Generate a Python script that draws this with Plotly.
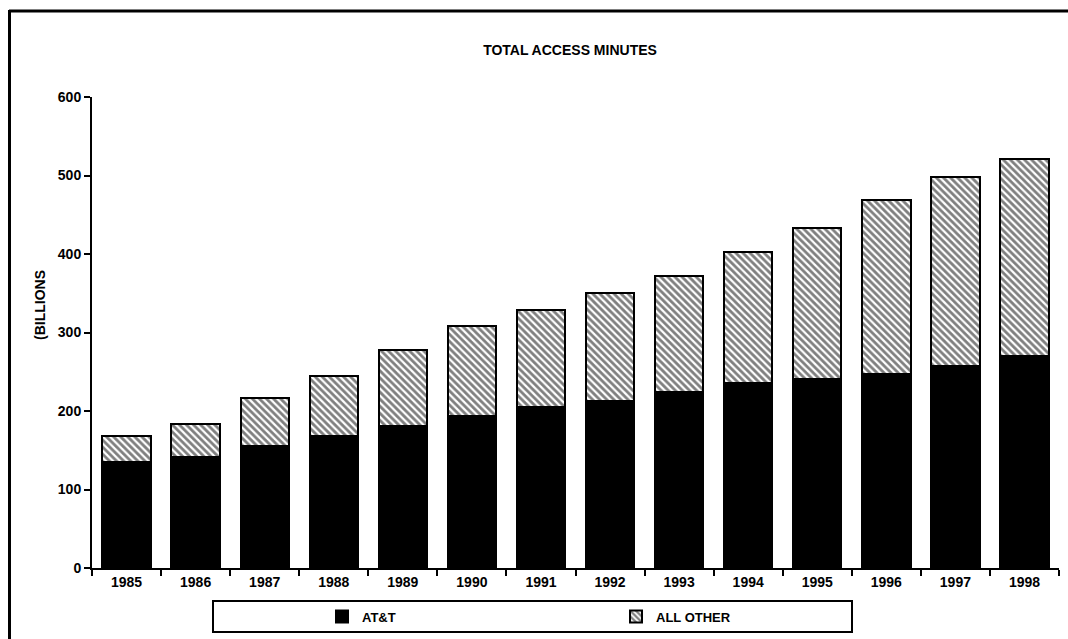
import plotly.graph_objects as go

years = ["1985", "1986", "1987", "1988", "1989", "1990", "1991",
         "1992", "1993", "1994", "1995", "1996", "1997", "1998"]
att = [135, 141, 155, 168, 181, 194, 205, 213, 224, 236, 241, 247, 257, 270]
all_other = [33, 42, 61, 77, 97, 114, 124, 137, 148, 166, 192, 222, 241, 251]
y_ticks = [0, 100, 200, 300, 400, 500, 600]

W, H = 1068, 639
L, R, T, B = 92, 1059, 97, 568


def px(x):
    return (x - L) / (R - L)


def py(y):
    return (B - y) / (B - T)


FONT = "Liberation Sans, Arial, sans-serif"

fig = go.Figure()
fig.add_trace(go.Bar(
    x=years, y=att, name="AT&T",
    marker=dict(color="black", line=dict(color="black", width=2)),
))
fig.add_trace(go.Bar(
    x=years, y=all_other, name="ALL OTHER",
    marker=dict(color="white", line=dict(color="black", width=2),
                pattern=dict(shape="\\", fgcolor="black", bgcolor="white",
                             size=5, solidity=0.55)),
))

fig.update_layout(
    width=W, height=H,
    barmode="stack", bargap=0.3,
    plot_bgcolor="white", paper_bgcolor="white",
    margin=dict(l=L, r=W - R, t=T, b=H - B, autoexpand=False),
    font=dict(family=FONT, size=13, color="black"),
    title=dict(text="TOTAL ACCESS MINUTES", x=px(570), xref="paper",
               xanchor="center", y=1 - 50 / H, yanchor="middle",
               font=dict(size=14, family=FONT, color="black", weight="bold")),
    xaxis=dict(showline=True, linecolor="black", linewidth=2,
               ticks="outside", ticklen=6, tickwidth=2, tickcolor="black",
               tickson="boundaries", showgrid=False,
               tickfont=dict(size=14, family=FONT, weight="bold")),
    yaxis=dict(range=[0, 600], tickvals=y_ticks, showline=True,
               linecolor="black", linewidth=2, ticks="outside", ticklen=6,
               tickwidth=2, tickcolor="black", showgrid=False, zeroline=False,
               tickfont=dict(size=14, family=FONT, weight="bold")),
    legend=dict(orientation="h", x=px(322), xanchor="left",
                y=py(616.5), yanchor="middle", entrywidth=249,
                entrywidthmode="pixels", bgcolor="rgba(0,0,0,0)",
                font=dict(size=13, family=FONT, weight="bold"),
                itemclick=False, traceorder="normal"),
    showlegend=True,
)

# y-axis title as rotated annotation
fig.add_annotation(text="(BILLIONS", textangle=-90, showarrow=False,
                   xref="paper", yref="paper", x=px(40), y=py(305),
                   xanchor="center", yanchor="middle",
                   font=dict(size=14, family=FONT, color="black",
                             weight="bold"))

# legend frame
fig.add_shape(type="rect", xref="paper", yref="paper",
              x0=px(213), x1=px(852), y0=py(601), y1=py(632),
              line=dict(color="black", width=2), layer="below")
# outer frame (top and left edges)
fig.add_shape(type="line", xref="paper", yref="paper",
              x0=px(9), x1=px(1068), y0=py(11), y1=py(11),
              line=dict(color="black", width=3))
fig.add_shape(type="line", xref="paper", yref="paper",
              x0=px(9.5), x1=px(9.5), y0=py(10), y1=py(639),
              line=dict(color="black", width=3))

fig.write_html(
    "out.html",
    config={"displayModeBar": False},
    post_script="document.body.style.margin='0';"
                "document.body.style.overflow='hidden';",
)
